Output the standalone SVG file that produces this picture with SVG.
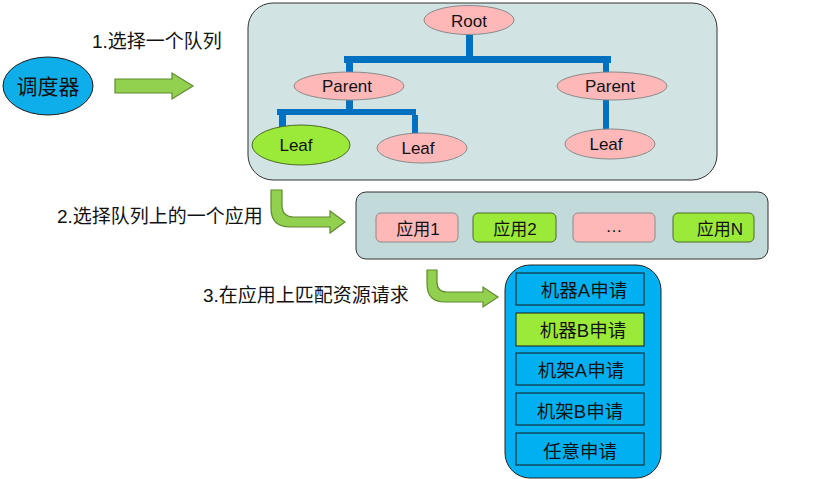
<svg xmlns="http://www.w3.org/2000/svg" width="824" height="479" viewBox="0 0 824 479">
<style>
text{font-family:"Liberation Sans","Noto Sans CJK SC",sans-serif;fill:#111;text-anchor:middle}
.lbl{font-size:19px;text-anchor:start}
.pink{fill:#FFB8B8;stroke:#8a8a8a;stroke-width:1}
.green{fill:#9BEA3A;stroke:#4d6b2a;stroke-width:1}
.arrow{fill:#92D050;stroke:#5f8a2e;stroke-width:1.2}
.tree{fill:#0070C0}
.t16{font-size:17px}
.t17{font-size:18.5px}
.req{fill:#00B0F0;stroke:#1a1a1a;stroke-width:1}
</style>
<rect width="824" height="479" fill="#fff"/>
<g id="scheduler">
<ellipse cx="48" cy="86" rx="45" ry="29" fill="#0EAEEB" stroke="#1a1a1a" stroke-width="1"/>
<text x="48" y="94" font-size="21">调度器</text>
</g>
<g id="label1"><text class="lbl" x="92" y="48">1.选择一个队列</text></g>
<g id="label2"><text class="lbl" x="57" y="223">2.选择队列上的一个应用</text></g>
<g id="label3"><text class="lbl" x="203" y="302">3.在应用上匹配资源请求</text></g>
<g id="queue-tree">
<rect x="248" y="3" width="469" height="177" rx="25" fill="#D2E3E3" stroke="#333" stroke-width="1"/>
</g>
<g id="connectors">
<path class="arrow" d="M115,79 L172,79 L172,73 L193,86 L172,99 L172,93 L115,93 Z"/>
<path class="arrow" d="M271,190 L282,190 L282,205 Q282,217 294,217 L330,217 L330,211 L345,222 L330,233 L330,227 L290,227 Q271,227 271,208 Z"/>
<path class="arrow" d="M427,270 L437,270 L437,282 Q437,292 447,292 L483,292 L483,287 L498,297 L483,307 L483,302 L445,302 Q427,302 427,284 Z"/>
<rect class="tree" x="466" y="35" width="7" height="21"/>
<rect class="tree" x="344" y="56" width="267" height="7"/>
<rect class="tree" x="346" y="63" width="7" height="10"/>
<rect class="tree" x="603" y="63" width="6" height="10"/>
<rect class="tree" x="346" y="100" width="7" height="9"/>
<rect class="tree" x="277" y="109" width="139" height="6"/>
<rect class="tree" x="279" y="115" width="7" height="12"/>
<rect class="tree" x="412" y="115" width="6" height="19"/>
<rect class="tree" x="603" y="100" width="6" height="31"/>
</g>
<g id="root"><ellipse class="pink" cx="469" cy="20" rx="45" ry="14.5"/><text class="t16" x="469" y="27">Root</text></g>
<g id="parent-left"><ellipse class="pink" cx="349" cy="86" rx="55" ry="14"/><text class="t16" x="347" y="92">Parent</text></g>
<g id="parent-right"><ellipse class="pink" cx="612" cy="86" rx="55" ry="14"/><text class="t16" x="610" y="92">Parent</text></g>
<g id="leaf1"><ellipse class="green" cx="301" cy="145" rx="49" ry="20"/><text class="t16" x="296" y="151">Leaf</text></g>
<g id="leaf2"><ellipse class="pink" cx="422" cy="148" rx="45" ry="15"/><text class="t16" x="418" y="154">Leaf</text></g>
<g id="leaf3"><ellipse class="pink" cx="610" cy="144" rx="45" ry="15"/><text class="t16" x="606" y="150">Leaf</text></g>
<g id="app-queue">
<rect x="356" y="192" width="412" height="67" rx="10" fill="#C3DADB" stroke="#333" stroke-width="1"/>
</g>
<g id="app1"><rect class="pink" x="376" y="213" width="82" height="29" rx="5"/><text class="t16" x="418" y="235">应用1</text></g>
<g id="app2"><rect class="green" x="473" y="213" width="83" height="29" rx="5"/><text class="t16" x="515" y="235">应用2</text></g>
<g id="app-etc"><rect class="pink" x="573" y="213" width="82" height="29" rx="5"/><text class="t16" x="614" y="232">…</text></g>
<g id="appN"><rect class="green" x="673" y="213" width="81" height="29" rx="5"/><text class="t16" x="720" y="235">应用N</text></g>
<g id="requests">
<rect x="505" y="265" width="156" height="213" rx="25" fill="#00B0F0" stroke="#222" stroke-width="1"/>
</g>
<g id="req1"><rect class="req" x="516" y="273" width="128" height="32"/><text class="t17" x="584" y="297">机器A申请</text></g>
<g id="req2"><rect x="516" y="313" width="128" height="33" fill="#9BEA3A" stroke="#1a1a1a" stroke-width="1"/><text class="t17" x="583" y="337">机器B申请</text></g>
<g id="req3"><rect class="req" x="516" y="353" width="128" height="32"/><text class="t17" x="581" y="377">机架A申请</text></g>
<g id="req4"><rect class="req" x="516" y="393" width="128" height="32"/><text class="t17" x="580" y="418">机架B申请</text></g>
<g id="req5"><rect class="req" x="516" y="433" width="128" height="32"/><text class="t17" x="580" y="458">任意申请</text></g>
</svg>
